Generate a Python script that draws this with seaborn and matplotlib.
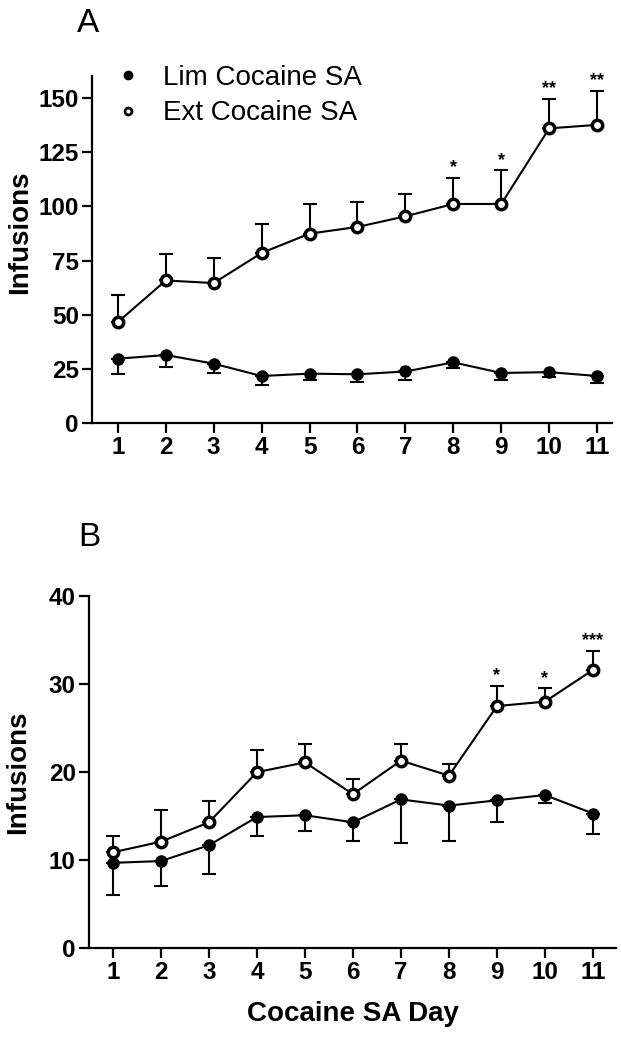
import numpy as np
import pandas as pd
import matplotlib
matplotlib.use("Agg")
import matplotlib.pyplot as plt
import seaborn as sns
from matplotlib.lines import Line2D

sns.set_style("ticks")
plt.rcParams["font.family"] = ["Liberation Sans", "DejaVu Sans"]
plt.rcParams["axes.linewidth"] = 1.6
plt.rcParams["text.color"] = "black"
plt.rcParams["axes.labelcolor"] = "black"
plt.rcParams["xtick.color"] = "black"
plt.rcParams["ytick.color"] = "black"
plt.rcParams["axes.edgecolor"] = "black"

# dados
dias = list(range(1, 12))

# painel A
a_lim = [29.7, 31.4, 27.4, 21.7, 22.8, 22.5, 23.8, 28.0, 23.1, 23.5, 21.7]
a_lim_erro = [6.9, 5.6, 4.2, 4.3, 3.1, 3.6, 4.1, 2.6, 3.1, 2.3, 3.2]
a_ext = [46.6, 65.8, 64.6, 78.5, 87.4, 90.5, 95.4, 101.1, 101.1, 136.0, 137.6]
a_ext_erro = [12.3, 12.2, 11.7, 13.5, 13.6, 11.7, 10.2, 12.1, 15.6, 13.7, 15.8]
a_sig = ["", "", "", "", "", "", "", "*", "*", "**", "**"]

# painel B
b_lim = [9.7, 9.9, 11.7, 14.9, 15.1, 14.3, 16.9, 16.2, 16.8, 17.4, 15.3]
b_lim_erro = [3.6, 2.8, 3.3, 2.1, 1.8, 2.1, 5.0, 4.0, 2.5, 0.9, 2.3]
b_ext = [10.9, 12.1, 14.3, 20.0, 21.1, 17.5, 21.3, 19.6, 27.5, 28.0, 31.6]
b_ext_erro = [1.8, 3.6, 2.4, 2.5, 2.1, 1.7, 1.9, 1.3, 2.3, 1.5, 2.2]
b_sig = ["", "", "", "", "", "", "", "", "*", "*", "***"]

a_yticks = [0, 25, 50, 75, 100, 125, 150]
b_yticks = [0, 10, 20, 30, 40]

fig = plt.figure(figsize=(6.21, 10.5), dpi=100)
axA = fig.add_axes([0.1481, 0.5971, 0.8374, 0.3302])
axB = fig.add_axes([0.1433, 0.0969, 0.8486, 0.3355])


def painel(ax, lim, lim_erro, ext, ext_erro, sig, yticks, ylim, xlim, off_sig):
    zeros = [0] * len(dias)
    # barras de erro (um lado so)
    ax.errorbar(dias, lim, yerr=[lim_erro, zeros], fmt="none", ecolor="black",
                elinewidth=1.5, capsize=5, capthick=1.5, zorder=1)
    ax.errorbar(dias, ext, yerr=[zeros, ext_erro], fmt="none", ecolor="black",
                elinewidth=1.5, capsize=5, capthick=1.5, zorder=1)
    sns.lineplot(x=dias, y=lim, ax=ax, color="black", linewidth=1.5,
                 marker="o", markersize=8, markerfacecolor="black",
                 markeredgecolor="black", markeredgewidth=1, zorder=3)
    sns.lineplot(x=dias, y=ext, ax=ax, color="black", linewidth=1.5,
                 marker="o", markersize=7.5, markerfacecolor="white",
                 markeredgecolor="black", markeredgewidth=2.5, zorder=4)
    for d, v, e, s in zip(dias, ext, ext_erro, sig):
        if s:
            ax.annotate(s, (d, v + e), xytext=(0, off_sig), textcoords="offset points",
                        ha="center", va="bottom", fontsize=13, fontweight="bold")
    ax.set_xlim(*xlim)
    ax.set_ylim(*ylim)
    ax.set_xticks(dias)
    ax.set_yticks(yticks)
    ax.tick_params(axis="both", length=7.5, width=1.6, labelsize=17.5, pad=2)
    for lab in ax.get_xticklabels() + ax.get_yticklabels():
        lab.set_fontweight("bold")
    sns.despine(ax=ax)
    ax.set_ylabel("Infusions", fontsize=20, fontweight="bold", va="center")


painel(axA, a_lim, a_lim_erro, a_ext, a_ext_erro, a_sig, a_yticks, (0, 160), (0.46, 11.31), 1)
painel(axB, b_lim, b_lim_erro, b_ext, b_ext_erro, b_sig, b_yticks, (0, 40), (0.5, 11.48), 1)

axA.yaxis.set_label_coords((20 - 92) / 520, 0.551)
axB.yaxis.set_label_coords((18 - 89) / 527, 0.5)
axB.set_xlabel("Cocaine SA Day", fontsize=20, fontweight="bold", labelpad=12)

fig.text(88 / 621, 1 - 23 / 1050, "A", fontsize=24, ha="center", va="center")
fig.text(89 / 621, 1 - 537 / 1050, "B", fontsize=24, ha="center", va="center")

handles = [
    Line2D([], [], linestyle="none", marker="o", markersize=6, color="black"),
    Line2D([], [], linestyle="none", marker="o", markersize=5, markerfacecolor="white",
           markeredgecolor="black", markeredgewidth=2),
]
axA.legend(handles, ["Lim Cocaine SA", "Ext Cocaine SA"], loc="center left",
           bbox_to_anchor=(0.0423, 0.9446), frameon=False, fontsize=20,
           handlelength=1.0, handletextpad=0.76, borderpad=0, borderaxespad=0,
           labelspacing=0.35)

fig.savefig("out.png", dpi=100)
